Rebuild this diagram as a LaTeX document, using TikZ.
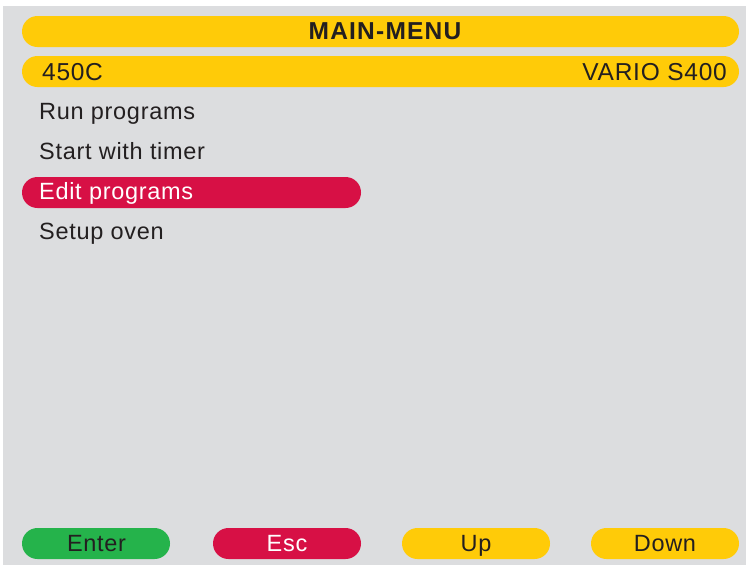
\documentclass[tikz,border=0pt]{standalone}
\usepackage{fontspec}
\setmainfont{Liberation Sans}[LetterSpace=3]
\newfontfamily\titlefont{Liberation Sans}[LetterSpace=5]
\definecolor{panel}{HTML}{DCDDDF}
\definecolor{ovyellow}{HTML}{FFCB08}
\definecolor{ovred}{HTML}{D71045}
\definecolor{ovgreen}{HTML}{25B34B}
\definecolor{ovtext}{HTML}{231F20}
\tikzset{
  bar/.style={rectangle, rounded corners=15.5pt, minimum height=31pt, inner sep=0pt, draw=none},
  btn/.style={bar, minimum width=148pt},
  lbl/.style={inner sep=0pt, text=ovtext, font=\fontsize{23.5}{28}\selectfont},
  biglbl/.style={lbl, font=\fontsize{24.5}{29}\selectfont},
}
\begin{document}
\begin{tikzpicture}[x=1pt, y=-1pt]
  \useasboundingbox (0,0) rectangle (750,566);
  \fill[white] (0,0) rectangle (750,566);
  \fill[panel] (3,6) rectangle (746,565);

  % title bar
  \node (titlebar) [bar, fill=ovyellow, minimum width=717pt] at (380.5,31.5) {};
  \node (title) [lbl, anchor=base, font=\titlefont\bfseries\fontsize{24.5}{29}\selectfont] at (385,39.5) {MAIN-MENU};

  % status bar
  \node (statusbar) [bar, fill=ovyellow, minimum width=717pt] at (380.5,71.5) {};
  \node (temp) [biglbl, anchor=base west] at (42,80) {450C};
  \node (model) [biglbl, anchor=base east] at (727,80) {VARIO S400};

  % menu
  \node (run) [lbl, anchor=base west] at (39,119.5) {Run programs};
  \node (timer) [lbl, anchor=base west] at (39,159.5) {Start with timer};
  \node (editbar) [bar, fill=ovred, minimum width=339pt] at (191.5,192.5) {};
  \node (edit) [lbl, text=white, anchor=base west] at (39,199.5) {Edit programs};
  \node (setup) [lbl, anchor=base west] at (39,239.5) {Setup oven};

  % buttons
  \node (enter) [btn, fill=ovgreen] at (96,543.5) {};
  \node (esc) [btn, fill=ovred] at (287,543.5) {};
  \node (up) [btn, fill=ovyellow] at (476,543.5) {};
  \node (down) [btn, fill=ovyellow] at (665,543.5) {};
  \node (enterlbl) [lbl, anchor=base] at (96.5,551.5) {Enter};
  \node (esclbl) [lbl, anchor=base, text=white] at (287,551.5) {Esc};
  \node (uplbl) [lbl, anchor=base] at (476,551.5) {Up};
  \node (downlbl) [lbl, anchor=base] at (665,551.5) {Down};
\end{tikzpicture}
\end{document}
